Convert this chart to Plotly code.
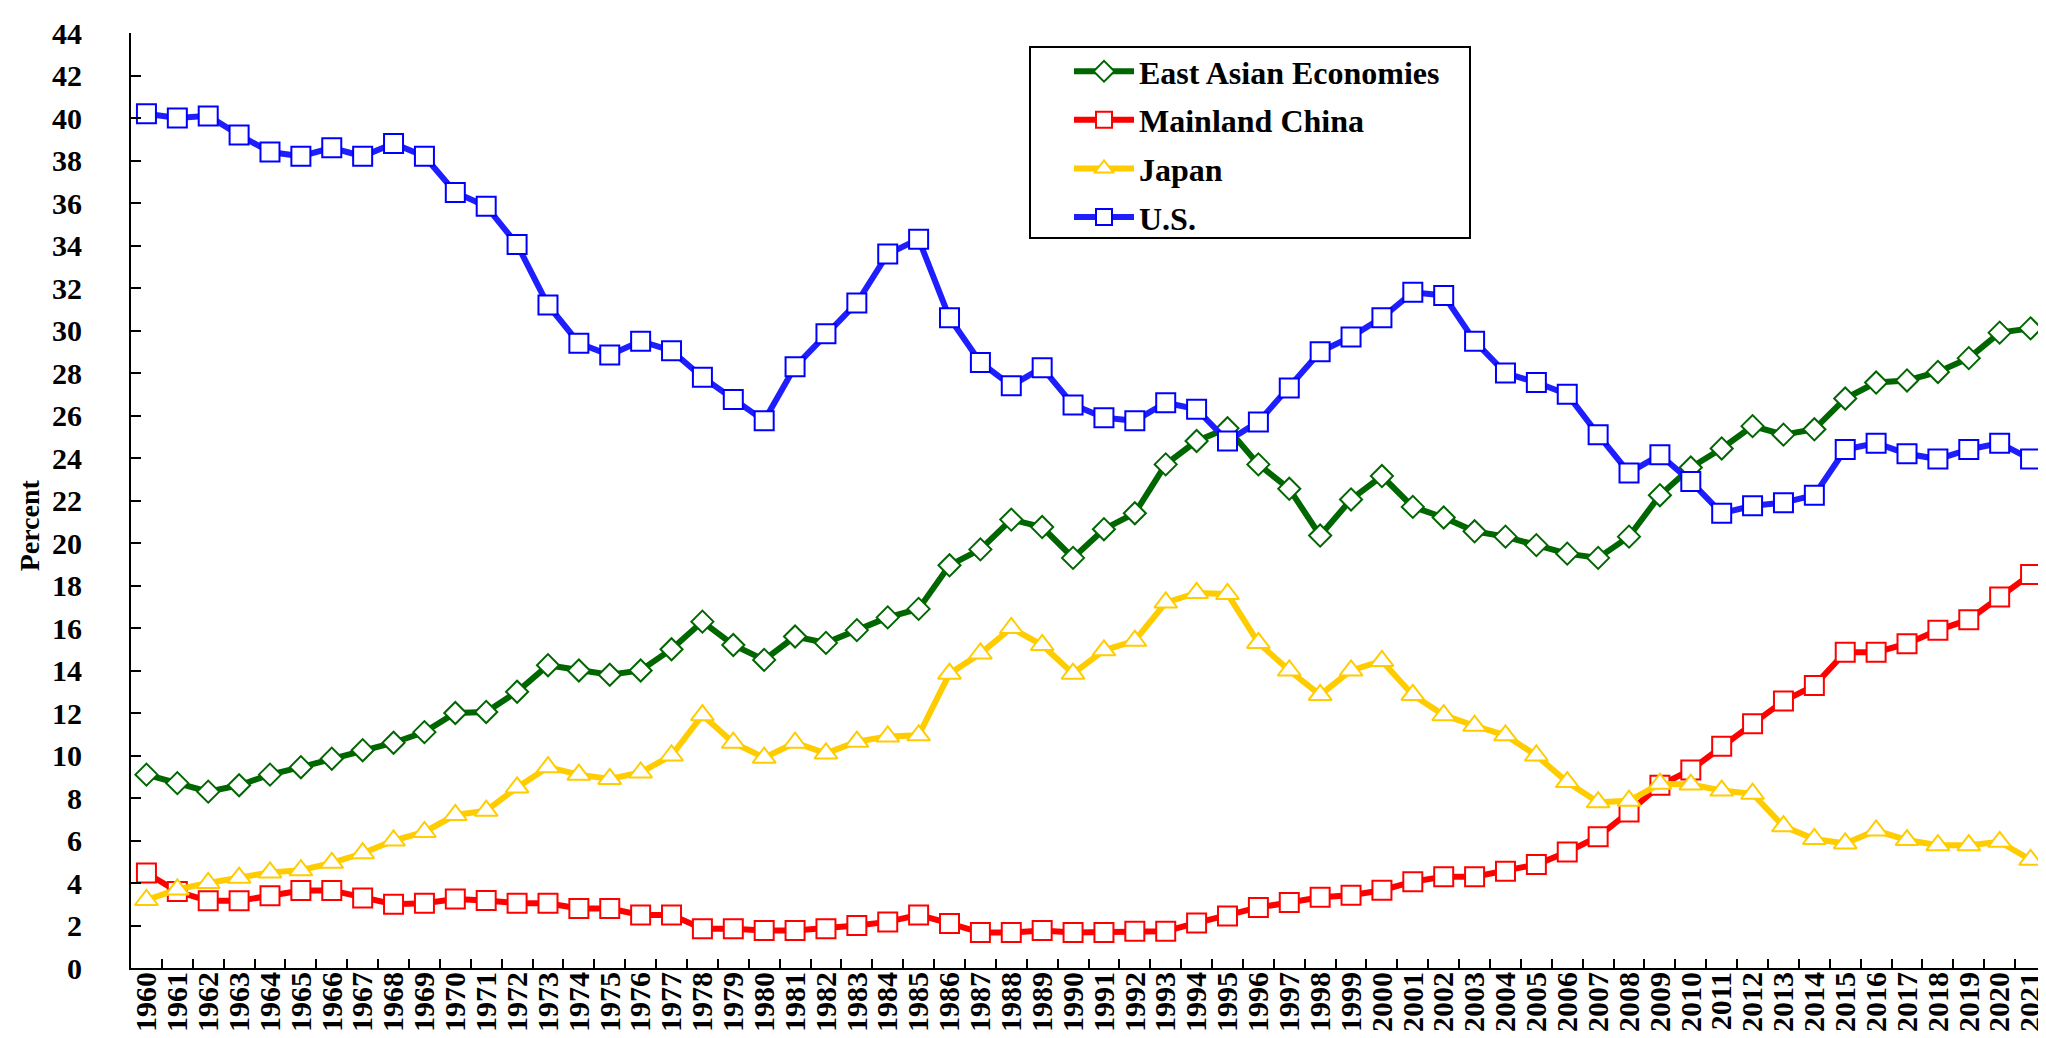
import plotly.graph_objects as go

years = [str(y) for y in range(1960, 2022)]

east_asia = [9.1, 8.7, 8.3, 8.6, 9.1, 9.45, 9.85, 10.25, 10.6, 11.1,
             12.0, 12.05, 13.0, 14.25, 14.0, 13.8, 14.0, 15.0, 16.3, 15.2,
             14.5, 15.6, 15.3, 15.9, 16.5, 16.9, 18.95, 19.7, 21.1, 20.75,
             19.3, 20.65, 21.4, 23.7, 24.8, 25.4, 23.7, 22.55, 20.35, 22.05,
             23.15, 21.7, 21.2, 20.55, 20.3, 19.9, 19.5, 19.3, 20.3, 22.25,
             23.55, 24.45, 25.5, 25.1, 25.35, 26.8, 27.55, 27.65, 28.05, 28.7, 29.9, 30.1]

china = [4.47, 3.6, 3.16, 3.16, 3.4, 3.65, 3.65, 3.3, 3.0, 3.05,
         3.25, 3.18, 3.05, 3.05, 2.8, 2.8, 2.5, 2.5, 1.85, 1.85,
         1.77, 1.77, 1.85, 2.0, 2.17, 2.5, 2.1, 1.67, 1.67, 1.77,
         1.67, 1.67, 1.73, 1.73, 2.12, 2.45, 2.85, 3.08, 3.33, 3.42,
         3.66, 4.06, 4.3, 4.3, 4.55, 4.87, 5.46, 6.18, 7.34, 8.6,
         9.32, 10.44, 11.49, 12.56, 13.29, 14.86, 14.86, 15.26, 15.9, 16.39, 17.46, 18.52]

japan = [3.2, 3.7, 4.0, 4.25, 4.5, 4.6, 4.95, 5.4, 6.0, 6.4,
         7.2, 7.4, 8.5, 9.45, 9.1, 8.9, 9.2, 10.0, 11.9, 10.6,
         9.9, 10.6, 10.1, 10.65, 10.9, 10.95, 13.85, 14.8, 16.0, 15.2,
         13.85, 14.95, 15.4, 17.2, 17.65, 17.6, 15.3, 14.0, 12.85, 14.0,
         14.45, 12.85, 11.9, 11.4, 10.95, 10.0, 8.75, 7.8, 7.87, 8.67,
         8.63, 8.35, 8.2, 6.67, 6.07, 5.86, 6.47, 6.02, 5.78, 5.78, 5.94, 5.09]

us = [40.2, 40.0, 40.1, 39.2, 38.4, 38.2, 38.6, 38.2, 38.8, 38.2,
      36.5, 35.85, 34.05, 31.2, 29.4, 28.85, 29.5, 29.05, 27.8, 26.75,
      25.75, 28.3, 29.85, 31.3, 33.6, 34.3, 30.6, 28.5, 27.4, 28.25,
      26.5, 25.9, 25.75, 26.6, 26.3, 24.8, 25.7, 27.3, 29.0, 29.7,
      30.6, 31.8, 31.65, 29.5, 28.0, 27.55, 27.0, 25.1, 23.3, 24.15,
      22.9, 21.4, 21.75, 21.9, 22.25, 24.4, 24.7, 24.2, 23.95, 24.4, 24.7, 23.95]

series_names = ["East Asian Economies", "Mainland China", "Japan", "U.S."]
y_ticks = list(range(0, 45, 2))

FONT = "Times New Roman, Liberation Serif, serif"

# plot area in pixels
L, R, T, B = 123, 2038, 20, 960
PW, PH = R - L, B - T

def px_x(x):
    return (x - L) / PW

def px_y(y):
    return (B - y) / PH

styles = [
    (east_asia, "#006600", "#006600", "diamond", 17),
    (china, "#FF0000", "#FF0000", "square", 19),
    (japan, "#FFCC00", "#FFCC00", "triangle-up", 20),
    (us, "#1E1EFF", "#0000FF", "square", 19),
]

fig = go.Figure()
for name, (vals, lc, mc, sym, sz) in zip(series_names, styles):
    fig.add_trace(go.Scatter(
        x=years, y=vals, name=name, mode="lines+markers",
        legendgroup=name,
        line=dict(color=lc, width=6),
        marker=dict(symbol=sym, size=sz, color="white",
                    line=dict(color=mc, width=2)),
    ))

fig.update_layout(
    width=2046, height=1038,
    margin=dict(l=L, r=2046 - R, t=T, b=1038 - B),
    paper_bgcolor="white", plot_bgcolor="white",
    font=dict(family=FONT, size=28, color="black", weight="bold"),
    showlegend=True,
    legend=dict(
        x=px_x(1061), y=px_y(31),
        xanchor="left", yanchor="top",
        bgcolor="rgba(0,0,0,0)", borderwidth=0,
        font=dict(family=FONT, size=32, color="black", weight="bold"),
        tracegroupgap=4, itemwidth=60,
    ),
    xaxis=dict(
        type="category", range=[-0.5, 61.5], dtick=1, tick0=0,
        tickson="boundaries", ticks="inside", ticklen=9, tickwidth=2,
        tickcolor="black", showline=True, linecolor="black", linewidth=2,
        showgrid=False, zeroline=False, tickangle=-90,
        tickfont=dict(family=FONT, size=30, color="black", weight="bold"),
        ticklabelstandoff=-10,
    ),
    yaxis=dict(
        range=[0, 44], tickvals=y_ticks, ticks="inside", ticklen=10,
        tickwidth=2, tickcolor="black", showline=True, linecolor="black",
        linewidth=2, showgrid=False, zeroline=False,
        tickfont=dict(family=FONT, size=30, color="black", weight="bold"),
        ticklabelstandoff=41,
    ),
    shapes=[dict(
        type="rect", xref="paper", yref="paper",
        x0=px_x(1022), x1=px_x(1462), y0=px_y(226), y1=px_y(34),
        line=dict(color="black", width=2), fillcolor="white", layer="below",
    )],
    annotations=[dict(
        text="Percent", xref="paper", yref="paper",
        x=px_x(21), y=px_y(515),
        xanchor="center", yanchor="middle", textangle=-90, showarrow=False,
        font=dict(family=FONT, size=28, color="black", weight="bold"),
    )],
)

fig.write_html("out.html")
